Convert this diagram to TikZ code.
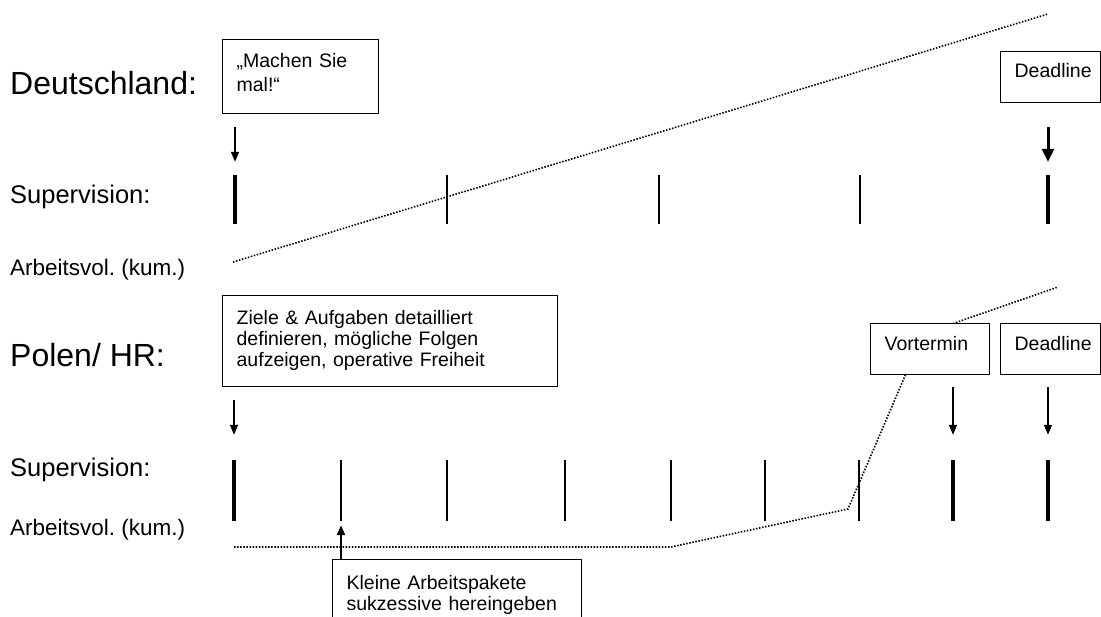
\documentclass[tikz,border=0pt]{standalone}
\usepackage{fontspec}
\setmainfont{Liberation Sans}
\frenchspacing
\usetikzlibrary{arrows.meta}
\tikzset{
    box/.style={draw,line width=1.3pt,fill=white,anchor=north west,inner xsep=14pt,inner ysep=0pt,align=left,font=\fontsize{19.5}{21}\selectfont},
    strich/.style={fill=black,inner sep=0pt,minimum width=2.4pt},
    verlauf/.style={line width=1.6pt,dash pattern=on 1.5pt off 1.6pt}
}

\begin{document}
\begin{tikzpicture}[
    x=1pt,y=-1pt,
    titel/.style={anchor=base west,inner sep=0pt,font=\fontsize{32}{38}\selectfont},
    zeile/.style={anchor=base west,inner sep=0pt,font=\fontsize{25.5}{30}\selectfont},
    volumen/.style={anchor=base west,inner sep=0pt,font=\fontsize{22.5}{27}\selectfont},
    pfeil/.style={-{Triangle[width=8pt,length=10pt]},line width=1.3pt},
    dickpfeil/.style={-{Triangle[width=12pt,length=13pt]},line width=3pt}
]
\useasboundingbox (0,0) rectangle (1101,617);

% Beschriftung links
\node[titel] (de) at (10,95) {Deutschland:};
\node[zeile] (sup1) at (10,204) {Supervision:};
\node[volumen] (vol1) at (10,276) {Arbeitsvol. (kum.)};
\node[titel] (pl) at (10,367) {Polen/ HR:};
\node[zeile] (sup2) at (10,477) {Supervision:};
\node[volumen] (vol2) at (10,535) {Arbeitsvol. (kum.)};

% Striche Deutschland
\foreach \x/\w [count=\i] in {235/4.2,447/2.4,659/2.4,860/2.4,1048/4.2}
    \node[strich,minimum width=\w pt,minimum height=49pt] (da\i) at (\x,199.5) {};

% Striche Polen/ HR
\foreach \x/\w [count=\i] in {234/4.2,341/2.4,447/2.4,565/2.4,671/2.4,765/2.4,859/2.4,953/4.2,1048/4.2}
    \node[strich,minimum width=\w pt,minimum height=61pt] (pl\i) at (\x,490.5) {};

% Arbeitsvolumen (gepunktet)
\coordinate (a0) at (233,262);
\coordinate (a1) at (1048,14);
\draw[verlauf] (a0) -- (a1);

\coordinate (b0) at (234,547);
\coordinate (b1) at (671,547);
\coordinate (b2) at (848,509);
\coordinate (b3) at (905,376);
\coordinate (b4) at (923,334);
\coordinate (b5) at (1058,287);
\draw[verlauf] (b0) -- (b1) -- (b2) -- (b3) -- (b4) -- (b5);

% Kaesten
\node[box,text width=128pt,text height=28pt,text depth=46pt] (machen) at (222,39) {„Machen Sie\\[3pt]mal!“};
\node[box,text width=72pt,text height=26pt,text depth=25pt] (dl1) at (1000,51) {Deadline};
\node[box,text width=307pt,text height=29pt,text depth=62pt] (ziele) at (222,295)
    {Ziele \& Aufgaben detailliert\\definieren, mögliche Folgen\\aufzeigen, operative Freiheit};
\node[box,text width=91pt,text height=27pt,text depth=24pt] (vor) at (870,323) {Vortermin};
\node[box,text width=72pt,text height=27pt,text depth=24pt] (dl2) at (1000,323) {Deadline};
\node[box,text width=221pt,text height=30pt,text depth=70pt] (klein) at (332,559)
    {Kleine Arbeitspakete\\sukzessive hereingeben};

% Pfeile
\draw[pfeil,shorten <=13pt,shorten >=13pt] (machen.south -| da1) -- (da1.north);
\draw[dickpfeil,shorten <=24pt,shorten >=13pt] (dl1.south -| da5) -- (da5.north);
\draw[pfeil,shorten <=13pt,shorten >=25pt] (ziele.south -| pl1) -- (pl1.north);
\draw[pfeil,shorten <=12pt,shorten >=25pt] (vor.south -| pl8) -- (pl8.north);
\draw[pfeil,shorten <=12pt,shorten >=25pt] (dl2.south -| pl9) -- (pl9.north);
\draw[pfeil,line width=2.2pt,shorten >=4pt] (klein.north -| pl2) -- (pl2.south);
\end{tikzpicture}
\end{document}
